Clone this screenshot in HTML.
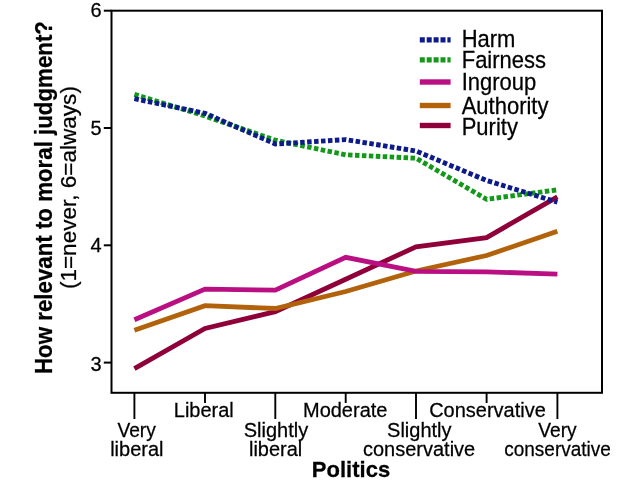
<!DOCTYPE html>
<html><head><meta charset="utf-8"><title>Moral foundations by politics</title>
<style>html,body{margin:0;padding:0;background:#fff}svg{display:block}text{font-family:"Liberation Sans",sans-serif;fill:#000;stroke:#000;stroke-width:0.25px}</style></head><body>
<svg width="640" height="480" viewBox="0 0 640 480">
<rect width="640" height="480" fill="#fff"/>
<polyline points="134.4,368.7 205,328.5 275.3,311.6 345.7,279.2 416,246.8 486.6,237.6 557.4,196.8" fill="none" stroke="#8f003a" stroke-width="4.8" stroke-linejoin="miter"/>
<polyline points="134.4,330.2 205,305.7 275.3,308.5 345.7,291.5 416,271 486.6,255.5 557.4,231.3" fill="none" stroke="#b2620a" stroke-width="4.8" stroke-linejoin="miter"/>
<polyline points="134.4,319.8 205,289.1 275.3,290.2 345.7,257.3 416,271.3 486.6,271.8 557.4,274.2" fill="none" stroke="#b90f82" stroke-width="4.8" stroke-linejoin="miter"/>
<polyline points="134.4,94.4 205,116.0 275.3,140.2 345.7,154.8 416,158.2 486.6,199.3 557.4,189.8" fill="none" stroke="#14981a" stroke-width="4.9" stroke-dasharray="4.5 2.45" stroke-linejoin="miter"/>
<polyline points="134.4,98.7 205,113.3 275.3,144 345.7,139.6 416,151 486.6,180.5 557.4,202.2" fill="none" stroke="#0c1a8c" stroke-width="4.9" stroke-dasharray="4.5 2.45" stroke-linejoin="miter"/>
<rect x="111.5" y="10.7" width="490.5" height="382.1" fill="none" stroke="#000" stroke-width="2"/>
<line x1="103.8" y1="10.7" x2="111.4" y2="10.7" stroke="#000" stroke-width="2"/>
<line x1="103.8" y1="128" x2="111.4" y2="128" stroke="#000" stroke-width="2"/>
<line x1="103.8" y1="245.3" x2="111.4" y2="245.3" stroke="#000" stroke-width="2"/>
<line x1="103.8" y1="362.6" x2="111.4" y2="362.6" stroke="#000" stroke-width="2"/>
<line x1="134.4" y1="392.8" x2="134.4" y2="419" stroke="#000" stroke-width="1.9"/>
<line x1="205" y1="392.8" x2="205" y2="403" stroke="#000" stroke-width="1.9"/>
<line x1="275.3" y1="392.8" x2="275.3" y2="419" stroke="#000" stroke-width="1.9"/>
<line x1="345.7" y1="392.8" x2="345.7" y2="403" stroke="#000" stroke-width="1.9"/>
<line x1="416" y1="392.8" x2="416" y2="419" stroke="#000" stroke-width="1.9"/>
<line x1="486.6" y1="392.8" x2="486.6" y2="403" stroke="#000" stroke-width="1.9"/>
<line x1="557.4" y1="392.8" x2="557.4" y2="419" stroke="#000" stroke-width="1.9"/>
<text transform="translate(101.6,16.6) scale(1,1.045)" font-size="20" text-anchor="end">6</text>
<text transform="translate(101.6,135.4) scale(1,1.045)" font-size="20" text-anchor="end">5</text>
<text transform="translate(101.6,251.6) scale(1,1.045)" font-size="20" text-anchor="end">4</text>
<text transform="translate(101.6,370.6) scale(1,1.045)" font-size="20" text-anchor="end">3</text>
<text transform="translate(203.8,416.8) scale(1,1.045)" font-size="20" text-anchor="middle" >Liberal</text>
<text transform="translate(345.2,416.8) scale(1,1.045)" font-size="20" text-anchor="middle" >Moderate</text>
<text transform="translate(487.5,416.8) scale(1,1.045)" font-size="20" text-anchor="middle" >Conservative</text>
<text transform="translate(136.6,436.8) scale(1,1.045)" font-size="20" text-anchor="middle" textLength="38.4" lengthAdjust="spacingAndGlyphs">Very</text>
<text transform="translate(136.8,456) scale(1,1.045)" font-size="20" text-anchor="middle" >liberal</text>
<text transform="translate(276,436.8) scale(1,1.045)" font-size="20" text-anchor="middle" >Slightly</text>
<text transform="translate(275.6,456) scale(1,1.045)" font-size="20" text-anchor="middle" >liberal</text>
<text transform="translate(419.3,436.8) scale(1,1.045)" font-size="20" text-anchor="middle" >Slightly</text>
<text transform="translate(419.1,456) scale(1,1.045)" font-size="20" text-anchor="middle" >conservative</text>
<text transform="translate(557.5,436.8) scale(1,1.045)" font-size="20" text-anchor="middle" textLength="38.4" lengthAdjust="spacingAndGlyphs">Very</text>
<text transform="translate(557.5,456) scale(1,1.045)" font-size="20" text-anchor="middle" textLength="106.6" lengthAdjust="spacingAndGlyphs">conservative</text>
<text transform="translate(351,477.2) scale(1,1.045)" font-size="22" text-anchor="middle" font-weight="bold">Politics</text>
<text transform="translate(52,197.5) rotate(-90) scale(1,1.045)" font-size="22.3" font-weight="bold" text-anchor="middle">How relevant to moral judgment?</text>
<text transform="translate(75.75,187.6) rotate(-90) scale(1,0.94)" font-size="22.55" text-anchor="middle">(1=never, 6=always)</text>
<line x1="419.8" y1="39.9" x2="450.6" y2="39.9" stroke="#0c1a8c" stroke-width="5.4" stroke-dasharray="5 1.9"/>
<text transform="translate(461.7,46.8) scale(1,1.085)" font-size="22">Harm</text>
<line x1="419.8" y1="59.9" x2="450.6" y2="59.9" stroke="#14981a" stroke-width="5.4" stroke-dasharray="5 1.9"/>
<text transform="translate(461.7,68.4) scale(1,1.085)" font-size="22">Fairness</text>
<line x1="419.8" y1="82" x2="450.6" y2="82" stroke="#b90f82" stroke-width="5.4"/>
<text transform="translate(461.7,90.1) scale(1,1.085)" font-size="22">Ingroup</text>
<line x1="419.8" y1="105.5" x2="450.6" y2="105.5" stroke="#b2620a" stroke-width="5.4"/>
<text transform="translate(461.7,113.5) scale(1,1.085)" font-size="22">Authority</text>
<line x1="419.8" y1="125.5" x2="450.6" y2="125.5" stroke="#8f003a" stroke-width="5.4"/>
<text transform="translate(461.7,135.4) scale(1,1.085)" font-size="22">Purity</text>
</svg></body></html>
